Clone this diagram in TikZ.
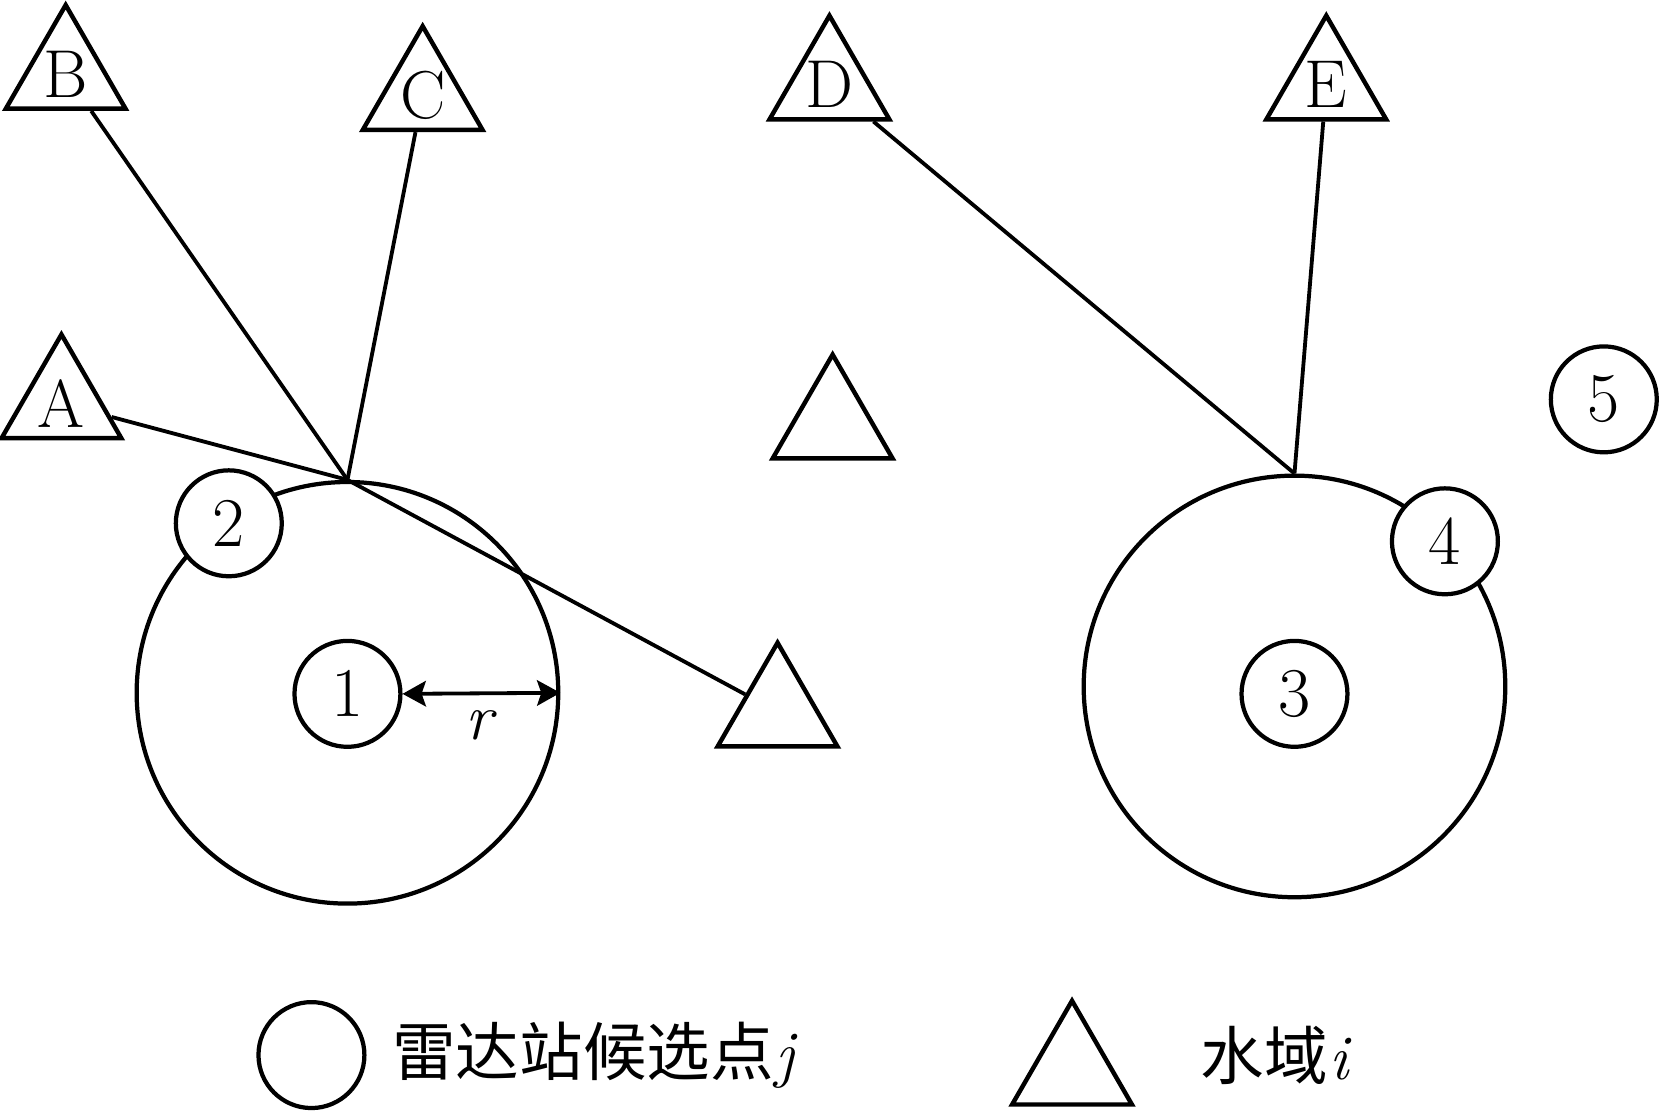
\documentclass[tikz,border=0pt]{standalone}
\usepackage{fontspec}
\newfontfamily\cjk{Noto Sans CJK SC}
\usetikzlibrary{shapes.geometric,arrows.meta}
\begin{document}
\begin{tikzpicture}[x=0.5pt,y=-0.5pt,
  tri/.style={draw, regular polygon, regular polygon sides=3, minimum size=65.25pt,
    inner sep=0pt, line width=2.1pt, font=\fontsize{32}{36}\selectfont},
  site/.style={draw, circle, fill=white, minimum size=50pt, inner sep=0pt,
    line width=2pt, font=\fontsize{33}{36}\selectfont},
  coverage/.style={draw, circle, minimum size=199pt, inner sep=0pt, line width=2pt},
  link/.style={line width=1.8pt},
  legtext/.style={anchor=west, inner sep=0pt, font=\fontsize{30}{34}\selectfont}
]
\useasboundingbox (0,0) rectangle (1568,1049);

% coverage circles
\node[coverage] (big1) at (328,654) {};
\node[coverage] (big3) at (1222,648) {};
\coordinate (h1) at (big1.north);
\coordinate (h3) at (big3.north);

% water areas
\node[tri] (B) at (62,70) {B};
\node[tri] (C) at (399,90) {C};
\node[tri] (A) at (58,381) {A};
\node[tri] (D) at (783,80) {D};
\node[tri] (E) at (1252,80) {E};
\node[tri] (M) at (786,400) {};
\node[tri] (L) at (734,672) {};

% links
\draw[link] (B) -- (h1);
\draw[link] (C) -- (h1);
\draw[link] (A) -- (h1);
\draw[link] (h1) -- (L);
\draw[link] (D) -- (h3);
\draw[link] (E) -- (h3);

% candidate sites
\node[site] (s1) at (328,655) {1};
\node[site] (s2) at (216,494) {2};
\node[site] (s3) at (1222,655) {3};
\node[site] (s4) at (1364,511) {4};
\node[site] (s5) at (1514,377) {5};

% radius arrow
\draw[link, {Stealth[length=11pt,width=12pt,inset=2pt]}-{Stealth[length=11pt,width=12pt,inset=2pt]}]
  (s1.east) -- (big1.east) node[midway, below=4pt, font=\fontsize{31}{34}\selectfont] (rl) {\textit{r}};

% legend
\node[site] (lc) at (294,996) {};
\node[legtext] (lt1) at (370,996) {{\cjk 雷达站候选点}\kern1pt\textit{j}};
\node[tri] (lt) at (1012,1010) {};
\node[legtext] (lt2) at (1133,996) {{\cjk 水域}\kern1pt\textit{i}};
\end{tikzpicture}
\end{document}
